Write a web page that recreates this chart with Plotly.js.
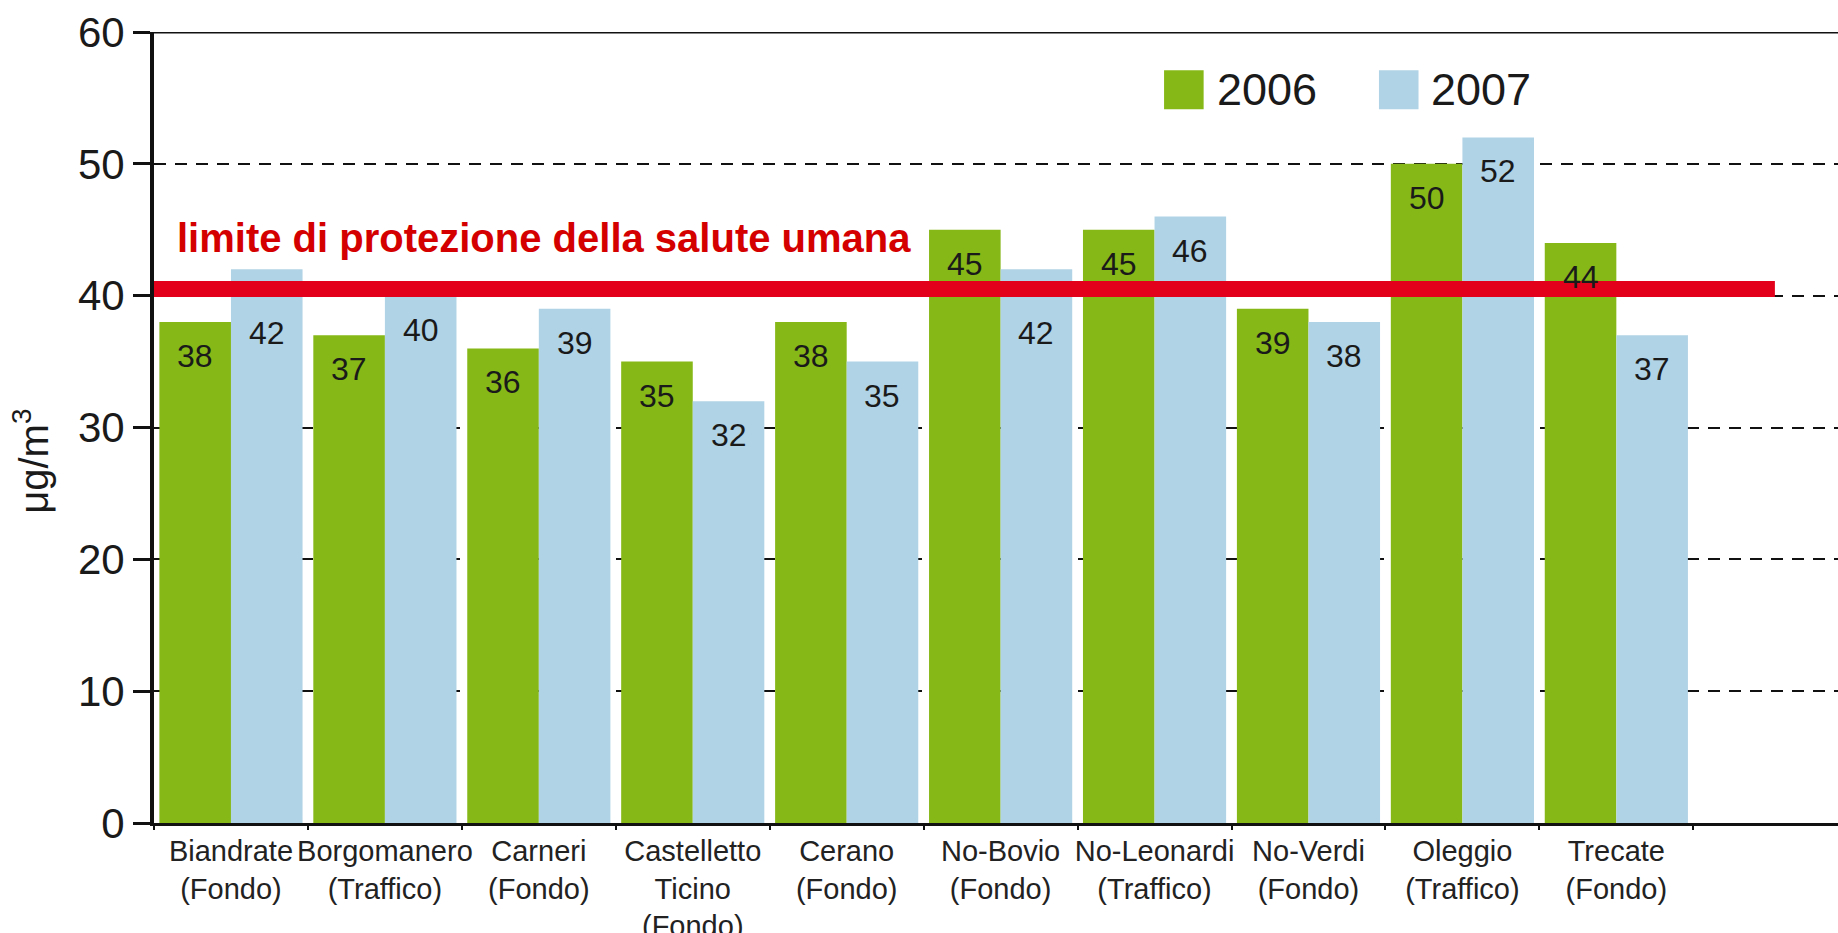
<!DOCTYPE html>
<html>
<head>
<meta charset="utf-8">
<script src="https://cdn.plot.ly/plotly-3.0.1.min.js"></script>
<style>
  html, body { margin: 0; padding: 0; background: #fff; }
  #chart { width: 1838px; height: 933px; }
</style>
</head>
<body>
<div id="chart"></div>
<script>
// stations (x categories)
const stations = [
    "Biandrate<br>(Fondo)",
    "Borgomanero<br>(Traffico)",
    "Carneri<br>(Fondo)",
    "Castelletto<br>Ticino<br>(Fondo)",
    "Cerano<br>(Fondo)",
    "No-Bovio<br>(Fondo)",
    "No-Leonardi<br>(Traffico)",
    "No-Verdi<br>(Fondo)",
    "Oleggio<br>(Traffico)",
    "Trecate<br>(Fondo)"
];

const seriesNames = ["2006", "2007"];
const values2006 = [38, 37, 36, 35, 38, 45, 45, 39, 50, 44];
const values2007 = [42, 40, 39, 32, 35, 42, 46, 38, 52, 37];

const limitValue = 40.5;
const limitLabel = "limite di protezione della salute umana";

const yTicks = [0, 10, 20, 30, 40, 50, 60];
const yTitle = "μg/m<sup>3</sup>";

const GREEN = "#86b817";
const BLUE = "#b0d3e6";
const RED = "#e2001a";

const font = "Liberation Sans, Arial, sans-serif";
const bargap = 0.07;

const traces = [
    {
        type: "bar",
        name: seriesNames[0],
        x: stations,
        y: values2006,
        marker: { color: GREEN },
        hoverinfo: "x+y"
    },
    {
        type: "bar",
        name: seriesNames[1],
        x: stations,
        y: values2007,
        marker: { color: BLUE },
        hoverinfo: "x+y"
    }
];

// value labels just below each bar top;
// a label that would sit on the red line just under it is pushed below the line
const pxPerUnit = (933 - 32 - 110) / 60;
const labelDrop = 34;
const half = (1 - bargap) / 4;
const labels = [];
[values2006, values2007].forEach((vals, s) => {
    vals.forEach((v, i) => {
        let y = v, shift = -labelDrop;
        const under = limitValue - (v - labelDrop / pxPerUnit);
        if (under > 0 && under * pxPerUnit < 26) {
            y = limitValue;
            shift = -44;
        }
        labels.push({
            xref: "x", yref: "y",
            x: i + (s === 0 ? -half : half),
            y: y,
            yshift: shift,
            text: String(v),
            showarrow: false,
            font: { family: font, size: 32, color: "#1a1a1a" }
        });
    });
});

// limit label
labels.push({
    xref: "paper", yref: "y",
    x: 0.0125, y: 44.4,
    xanchor: "left", yanchor: "middle",
    text: "<b>" + limitLabel + "</b>",
    showarrow: false,
    font: { family: font, size: 40, color: "#d40000" }
});

// y axis title
labels.push({
    xref: "paper", yref: "y",
    x: -0.073, y: 27.4,
    xanchor: "center", yanchor: "middle",
    textangle: -90,
    text: yTitle,
    showarrow: false,
    font: { family: font, size: 40, color: "#1a1a1a" }
});

// hand-drawn legend: big squares like the original
const legendColors = [GREEN, BLUE];
const legendX = [0.5998, 0.7274];
const legendShapes = seriesNames.map((n, k) => ({
    type: "rect",
    xref: "paper", yref: "paper",
    x0: legendX[k], x1: legendX[k] + 0.0235,
    y0: 0.9023, y1: 0.9516,
    fillcolor: legendColors[k],
    line: { width: 0 }
}));
seriesNames.forEach((n, k) => {
    labels.push({
        xref: "paper", yref: "paper",
        x: legendX[k] + 0.030, y: 0.927,
        xanchor: "left", yanchor: "middle",
        text: n,
        showarrow: false,
        font: { family: font, size: 45, color: "#1a1a1a" }
    });
});

const shapes = [
    // top frame line
    {
        type: "line",
        xref: "paper", yref: "y",
        x0: -0.0101, x1: 1,
        y0: 60, y1: 60,
        line: { color: "#111", width: 3 }
    },
    // limit line
    {
        type: "line",
        xref: "x", yref: "y",
        x0: -0.53, x1: 10.03,
        y0: limitValue, y1: limitValue,
        line: { color: RED, width: 16 }
    }
].concat(legendShapes);

const layout = {
    width: 1838,
    height: 933,
    margin: { l: 154, r: 0, t: 32, b: 110 },
    paper_bgcolor: "#fff",
    plot_bgcolor: "#fff",
    barmode: "group",
    bargap: bargap,
    bargroupgap: 0,
    showlegend: false,
    font: { family: font, color: "#1a1a1a" },
    xaxis: {
        type: "category",
        range: [-0.5, 10.44],
        tickson: "boundaries",
        ticks: "outside",
        ticklen: 4,
        tickwidth: 2,
        tickcolor: "#111",
        tickangle: 0,
        showline: true,
        linecolor: "#111",
        linewidth: 3,
        showgrid: false,
        tickfont: { family: font, size: 29, color: "#222" },
        automargin: false
    },
    yaxis: {
        range: [0, 60],
        tickvals: yTicks,
        ticks: "outside",
        ticklen: 17,
        tickwidth: 3,
        tickcolor: "#111",
        showline: true,
        linecolor: "#111",
        linewidth: 4,
        zeroline: false,
        showgrid: true,
        gridcolor: "#111",
        gridwidth: 2,
        griddash: "12px,9px",
        tickfont: { family: font, size: 42, color: "#1a1a1a" },
        automargin: false
    },
    shapes: shapes,
    annotations: labels
};

Plotly.newPlot("chart", traces, layout, { displayModeBar: false, staticPlot: true });
</script>
</body>
</html>
